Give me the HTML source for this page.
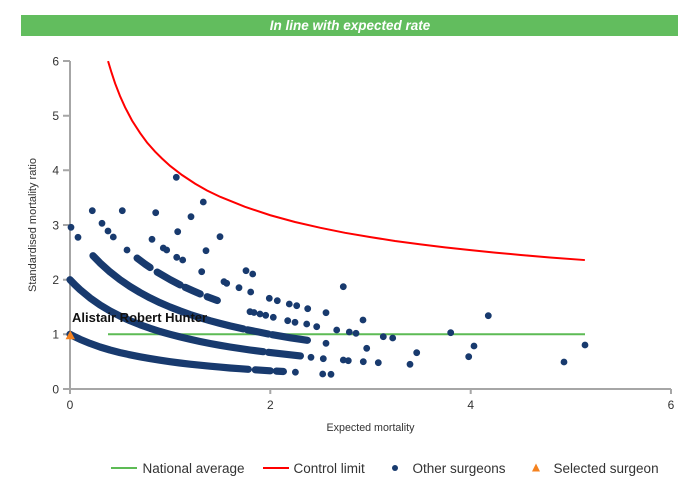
<!DOCTYPE html>
<html>
<head>
<meta charset="utf-8">
<style>
html,body{margin:0;padding:0;background:#fff}
body{width:700px;height:500px;overflow:hidden}
svg{display:block}
text{font-family:"Liberation Sans",Arial,sans-serif}
</style>
</head>
<body>
<svg width="700" height="500" viewBox="0 0 700 500" xmlns="http://www.w3.org/2000/svg">
<rect x="21" y="15" width="657" height="21" fill="#62BD5E"/>
<text x="350" y="30" text-anchor="middle" font-size="13.5" font-weight="bold" font-style="italic" fill="#fff">In line with expected rate</text>
<path d="M70 61V390M69 389H671M63 389H70M63 334.3H70M63 279.7H70M63 225H70M63 170.3H70M63 115.7H70M63 61H70M70 389V394M270.3 389V394M470.7 389V394M671 389V394" stroke="#a6a6a6" stroke-width="2" fill="none"/>
<g font-size="12" fill="#333" text-anchor="end">
<text x="59" y="393.3">0</text><text x="59" y="338.6">1</text><text x="59" y="284">2</text><text x="59" y="229.3">3</text><text x="59" y="174.6">4</text><text x="59" y="120">5</text><text x="59" y="65.3">6</text>
</g>
<g font-size="12" fill="#333" text-anchor="middle">
<text x="70" y="409">0</text><text x="270.3" y="409">2</text><text x="470.7" y="409">4</text><text x="671" y="409">6</text>
</g>
<text x="370.5" y="431" font-size="10.7" fill="#333" text-anchor="middle">Expected mortality</text>
<text transform="translate(36,225) rotate(-90)" font-size="11" fill="#333" text-anchor="middle">Standardised mortality ratio</text>
<line x1="108" y1="334.3" x2="585" y2="334.3" stroke="#5DBB55" stroke-width="2"/>
<polyline fill="none" stroke="#F00" stroke-width="2" points="108.06,61.14 111.5,72.5 115.08,83.33 120,96 125.09,107.28 132,120.5 140.12,133.09 147,142.5 155.14,151.68 162,158.5 170.17,165.95 182,175 195.21,183.72 207,190.5 220.26,196.84 245,206.8 270.34,215.26 295,222 320.43,227.83 345,232.8 370.51,237.13 395,241 420.6,244.34 445,247.4 470.68,250.14 495,252.6 520.77,254.95 550,257.5 584.87,260.06"/>
<path fill="none" stroke="#183A6E" stroke-width="7.2" stroke-linecap="round" stroke-linejoin="round" d="M70 334.3L75 336.9L80 339.3L90 343.4L100 347L110 350L120 352.6L130 354.8L140 356.8L150 358.6L160 360.2L170 361.7L180 363L190 364.2L200 365.2L210 366.2L220 367.1L230 368L240 368.7L248.3 369.3M255.3 369.8L270.3 370.8M276.4 371.1L283.4 371.5M70 279.7L75 284.9L80 289.6L90 297.9L100 304.9L110 310.9L120 316.1L130 320.7L140 324.7L150 328.3L160 331.5L170 334.3L180 336.9L190 339.3L200 341.5L210 343.5L220 345.3L230 347L240 348.5L250 350L263.3 351.7M268.3 352.3L280.4 353.7L290.4 354.8L300.4 355.9M93 255.7L100 262.9L110 271.9L120 279.7L130 286.5L140 292.5L150 297.9L160 302.7L170 307L180 310.9L190 314.5L200 317.7L210 320.7L220 323.4L230 325.9L243.3 328.9M247.3 329.8L258 331.9L268.3 334M272.3 334.7L281 336.2L290.4 337.8L299 339.1L307.4 340.3M137.1 258.1L145.1 264.1L150.1 267.5M157.2 272.1L170.2 279.7L180.2 284.9M185.2 287.3L193 290.8L200.2 293.9M207.2 296.7L217.3 300.5"/>
<path fill="none" stroke="#183A6E" stroke-width="6.8" stroke-linecap="round" d="M295.4 372.2h0M322.7 374h0M331 374.3h0M311 357.3h0M323.3 358.7h0M176.3 177.3h0M203.3 202h0M92.3 210.7h0M122.3 210.7h0M155.7 212.7h0M191 216.7h0M71 227.3h0M102 223.3h0M108 231h0M113.3 237h0M78 237.3h0M177.7 231.7h0M152 239.3h0M220 236.7h0M127 250h0M163.3 248h0M166.7 250h0M206 250.7h0M176.7 257.3h0M182.7 260h0M201.7 271.7h0M246 270.7h0M252.7 274h0M224 281.7h0M226.7 283.3h0M239 287.7h0M250.7 292h0M343.3 286.7h0M269.3 298.3h0M277.3 300.7h0M289.3 304h0M296.7 305.7h0M307.7 308.7h0M326 312.7h0M250 311.7h0M254 312.5h0M260 314h0M265.7 315.3h0M273.3 317.3h0M287.7 320.7h0M295 322.3h0M306.7 324h0M316.7 326.7h0M363 320h0M336.7 330h0M349.3 332h0M356 333.3h0M383.3 336.7h0M392.7 338h0M326 343.3h0M366.7 348.3h0M343.3 360h0M348.3 360.7h0M363.3 361.7h0M378.3 362.7h0M488.3 315.7h0M450.7 332.7h0M416.7 352.7h0M410 364.3h0M474 346h0M468.7 356.7h0M564 362h0M585 345h0"/>
<polygon points="70.3,330.5 65.6,339.2 75,339.2" fill="#F5821F"/>
<text x="72" y="322" font-size="13" font-weight="bold" fill="#111">Alistair Robert Hunter</text>
<line x1="111" y1="468" x2="137" y2="468" stroke="#5DBB55" stroke-width="2"/>
<text x="142.5" y="473" font-size="13.5" fill="#333">National average</text>
<line x1="263" y1="468" x2="289" y2="468" stroke="#F00" stroke-width="2"/>
<text x="293.5" y="473" font-size="13.5" fill="#333">Control limit</text>
<circle cx="395" cy="468" r="3" fill="#183A6E"/>
<text x="412.5" y="473" font-size="13.5" fill="#333">Other surgeons</text>
<polygon points="536,463.5 532,471.5 540,471.5" fill="#F5821F"/>
<text x="553.5" y="473" font-size="13.5" fill="#333">Selected surgeon</text>
</svg>
</body>
</html>
